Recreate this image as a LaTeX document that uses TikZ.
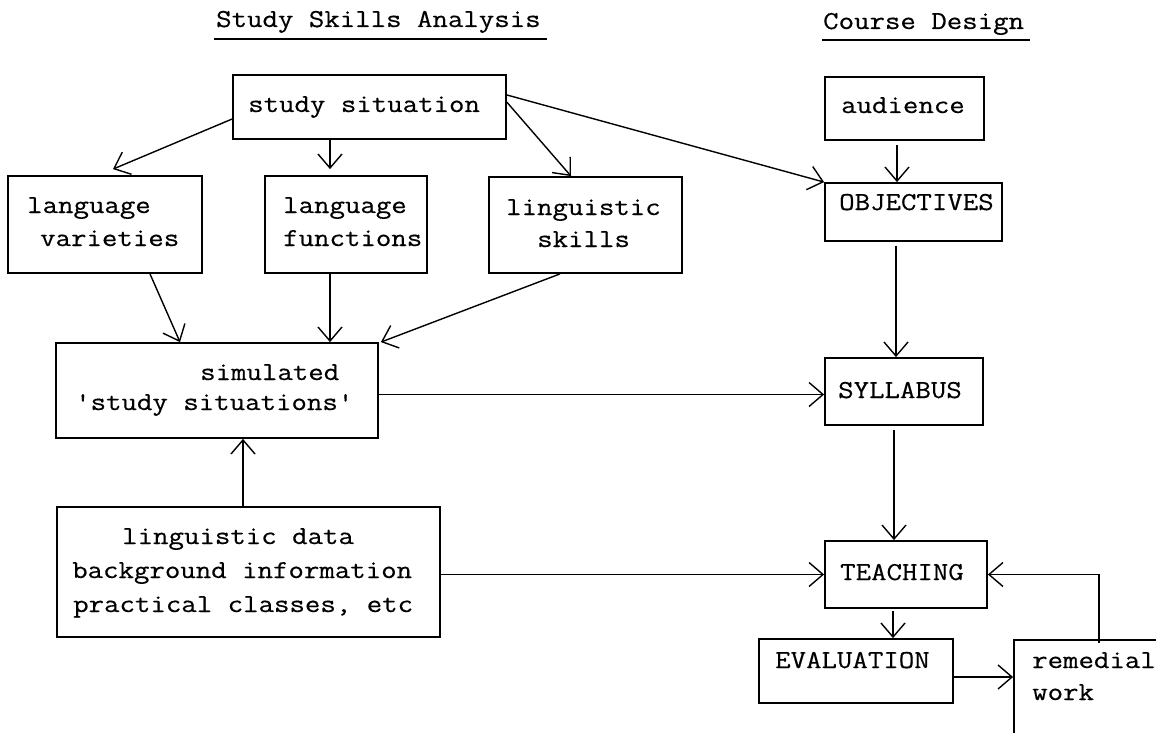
\documentclass[tikz,border=0pt]{standalone}
\usepackage{fontspec}
\usetikzlibrary{arrows.meta,fit}
% typewriter lettering: a little squat and inked a touch heavier, like the machine face
\newcommand\typewritten[1]{%
  \special{pdf:literal direct 2 Tr 0.12 w}%
  \scalebox{1}[0.86]{#1}%
  \special{pdf:literal direct 0 Tr}}
\begin{document}
\begin{tikzpicture}[x=1pt,y=-1pt,
  box/.style={draw, line width=1.8pt, inner sep=0pt, fit={#1}},
  lbl/.style={anchor=base west, inner sep=0pt,
    font=\ttfamily\fontsize{30}{36}\selectfont},
  arr/.style={-{Straight Barb[length=14pt,width=24pt]}, line width=1.4pt},
  rule/.style={line width=2pt}]
\useasboundingbox[fill=white] (0,0) rectangle (1156,733);
\clip (0,0) rectangle (1156,733);

% column headings
\node[lbl] (title-a) at (216,27) {\typewritten{Study Skills Analysis}};
\draw[rule] ([xshift=-2pt,yshift=-12pt]title-a.base west) -- ([xshift=6pt,yshift=-12pt]title-a.base east);
\node[lbl] (title-b) at (823,29) {\typewritten{Course Design}};
\draw[rule] ([xshift=-1pt,yshift=-11pt]title-b.base west) -- ([xshift=6pt,yshift=-11pt]title-b.base east);

% boxes
\node[box={(233,75) (506,139)}] (ss) {};
\node[box={(825,77) (984,140)}] (aud) {};
\node[box={(8,176) (202,273)}] (lv) {};
\node[box={(265,176) (427,273)}] (lf) {};
\node[box={(489,177) (682,273)}] (ls) {};
\node[box={(825,183) (1002,241)}] (obj) {};
\node[box={(56,343) (378,438)}] (sim) {};
\node[box={(825,358) (983,425)}] (syl) {};
\node[box={(57,507) (440,637)}] (ld) {};
\node[box={(825,541) (987,608)}] (tea) {};
\node[box={(759,639) (953,703)}] (eva) {};
\node[box={(1014,640) (1184,760)}] (rem) {};

% box texts
\node[lbl] (ss-1) at (248,112) {\typewritten{study situation}};
\node[lbl] (aud-1) at (841,113) {\typewritten{audience}};
\node[lbl] (lv-1) at (27,213) {\typewritten{language}};
\node[lbl] (lv-2) at (40,246) {\typewritten{varieties}};
\node[lbl] (lf-1) at (283,213) {\typewritten{language}};
\node[lbl] (lf-2) at (283,246) {\typewritten{functions}};
\node[lbl] (ls-1) at (506,215) {\typewritten{linguistic}};
\node[lbl] (ls-2) at (537,247) {\typewritten{skills}};
\node[lbl] (obj-1) at (839,210) {\typewritten{OBJECTIVES}};
\node[lbl] (sim-1) at (200,380) {\typewritten{simulated}};
\node[lbl] (sim-2) at (75,410) {\typewritten{'study situations'}};
\node[lbl] (syl-1) at (838,398) {\typewritten{SYLLABUS}};
\node[lbl] (ld-1) at (122,544) {\typewritten{linguistic data}};
\node[lbl] (ld-2) at (72,578) {\typewritten{background information}};
\node[lbl] (ld-3) at (73,612) {\typewritten{practical classes, etc}};
\node[lbl] (tea-1) at (840,580) {\typewritten{TEACHING}};
\node[lbl] (eva-1) at (775,668) {\typewritten{EVALUATION}};
\node[lbl] (rem-1) at (1032,668) {\typewritten{remedial}};
\node[lbl] (rem-2) at (1032,700) {\typewritten{work}};

% connectors
\draw[arr] (ss.185) -- ([shift={(8pt,6pt)}]lv.north);
\draw[arr] ([xshift=-16pt]lf.north |- ss.south) -- ([xshift=-16pt,yshift=6pt]lf.north);
\draw[arr] (ss.2) -- ([xshift=-14.5pt]ls.north);
\draw[arr] (ss.5) -- (obj.north west);
\draw[arr] ([xshift=-7.5pt,yshift=-4pt]aud.south) -- ([xshift=-7.5pt]aud.south |- obj.north);
\draw[arr] ([xshift=45pt]lv.south) -- ([xshift=-37pt]sim.north);
\draw[arr] ([xshift=-16pt]lf.south) -- ([xshift=-16pt]lf.south |- sim.north);
\draw[arr] ([xshift=-25.5pt]ls.south) -- ([xshift=2pt]sim.north east);
\draw[arr] ([yshift=-4pt]sim.east) -- ([yshift=-4pt]sim.east -| syl.west);
\draw[arr] ([xshift=-5.5pt]ld.north) -- ([xshift=-5.5pt]ld.north |- sim.south);
\draw[arr] (ld.east |- tea.west) -- (tea.west);
\draw[arr] ([xshift=-17.5pt,yshift=-4pt]obj.south) -- ([xshift=-17.5pt]obj.south |- syl.north);
\draw[arr] ([xshift=-10pt,yshift=-4pt]syl.south) -- ([xshift=-10pt]syl.south |- tea.north);
\draw[arr] ([xshift=-13pt,yshift=-2pt]tea.south) -- ([xshift=-13pt]tea.south |- eva.north);
\draw[arr] ([yshift=-6pt]eva.east) -- ([yshift=-6pt]eva.east -| rem.west);
\draw[arr] ([yshift=-4pt]rem.north) |- (tea.east);
\end{tikzpicture}
\end{document}
